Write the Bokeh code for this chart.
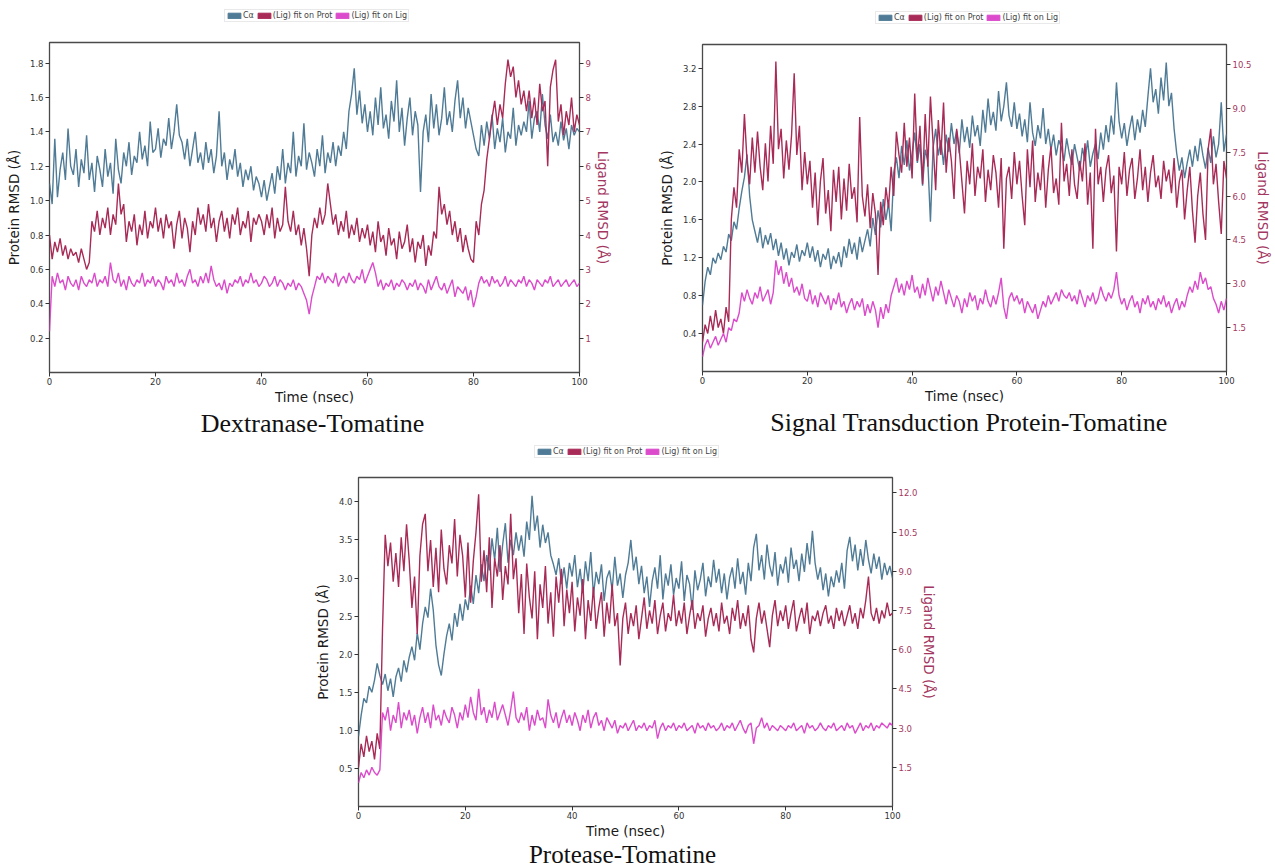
from bokeh.plotting import figure
from bokeh.models import (Range1d, LinearAxis, FixedTicker, PrintfTickFormatter,
                          Legend, LegendItem, Label, Spacer)
from bokeh.layouts import column, row
from bokeh.core.properties import value
from bokeh.embed import file_html
from bokeh.resources import INLINE

# ---------------- data (time in ns, RMSD in Angstrom) ----------------
TIME = [i * 0.5 for i in range(201)]

SERIES_LABELS = ["Cα", "(Lig) fit on Prot", "(Lig) fit on Lig"]

# Panel 1: Dextranase-Tomatine
DEX_CA = [
    1.10, 0.98, 1.36, 1.02, 1.18, 1.28, 1.12, 1.42, 1.20, 1.15, 1.30, 1.08, 1.24, 1.16, 1.38, 1.12, 1.22, 1.05, 1.26, 1.18,
    1.08, 1.30, 1.14, 1.22, 1.04, 1.36, 1.18, 1.10, 1.28, 1.20, 1.34, 1.15, 1.26, 1.22, 1.40, 1.24, 1.32, 1.20, 1.46, 1.28,
    1.30, 1.42, 1.25, 1.36, 1.32, 1.48, 1.30, 1.40, 1.56, 1.38, 1.34, 1.24, 1.36, 1.20, 1.30, 1.40, 1.22, 1.28, 1.18, 1.34,
    1.22, 1.30, 1.16, 1.26, 1.52, 1.20, 1.28, 1.12, 1.24, 1.18, 1.30, 1.14, 1.22, 1.08, 1.18, 1.12, 1.20, 1.06, 1.14, 1.10,
    1.02, 1.12, 1.00, 1.08, 1.16, 1.04, 1.20, 1.12, 1.30, 1.10, 1.22, 1.16, 1.40, 1.14, 1.26, 1.20, 1.45, 1.18, 1.28, 1.22,
    1.14, 1.30, 1.20, 1.38, 1.16, 1.28, 1.22, 1.34, 1.20, 1.32, 1.26, 1.40, 1.30, 1.52, 1.62, 1.77, 1.50, 1.64, 1.45, 1.56,
    1.40, 1.52, 1.38, 1.60, 1.44, 1.66, 1.42, 1.50, 1.36, 1.58, 1.46, 1.70, 1.40, 1.54, 1.32, 1.48, 1.60, 1.38, 1.52, 1.44,
    1.05, 1.40, 1.50, 1.34, 1.62, 1.42, 1.56, 1.38, 1.48, 1.66, 1.44, 1.52, 1.40, 1.58, 1.70, 1.48, 1.60, 1.42, 1.54, 1.46,
    1.38, 1.30, 1.26, 1.44, 1.32, 1.46, 1.36, 1.50, 1.30, 1.42, 1.34, 1.48, 1.28, 1.40, 1.36, 1.54, 1.32, 1.44, 1.38, 1.46,
    1.40, 1.58, 1.36, 1.48, 1.52, 1.40, 1.62, 1.44, 1.36, 1.50, 1.34, 1.40, 1.32, 1.46, 1.35, 1.42, 1.30, 1.44, 1.38, 1.42,
    1.40]
DEX_LIG_PROT = [
    4.0, 3.3, 3.8, 3.5, 3.9, 3.4, 3.7, 3.3, 3.6, 3.4, 3.5, 3.2, 3.6, 3.3, 3.0, 3.2, 4.4, 4.1, 4.7, 4.0,
    4.5, 4.2, 4.8, 4.0, 4.6, 4.3, 5.5, 4.6, 4.9, 3.8, 4.4, 4.1, 4.6, 3.7, 4.3, 4.0, 4.7, 3.9, 4.4, 4.2,
    4.8, 4.1, 4.5, 3.9, 4.6, 4.2, 4.4, 3.6, 4.3, 4.7, 3.9, 4.5, 4.2, 3.5, 4.4, 4.0, 4.8, 4.3, 4.6, 4.1,
    4.9, 4.2, 4.5, 3.8, 4.4, 4.7, 4.1, 4.5, 3.9, 4.6, 4.3, 4.8, 4.0, 4.4, 4.2, 4.7, 3.8, 4.5, 4.3, 4.6,
    4.4, 4.0, 4.6, 4.2, 4.8, 3.9, 4.5, 4.1, 4.3, 5.4, 4.4, 4.1, 4.7, 4.0, 4.3, 3.7, 4.2, 3.6, 2.8, 4.0,
    4.5, 4.2, 4.8, 4.3, 4.6, 5.5, 4.9, 4.3, 4.6, 4.0, 4.4, 4.1, 4.7, 3.9, 4.3, 4.0, 4.5, 3.8, 4.2, 3.9,
    4.3, 3.7, 4.1, 3.5, 4.4, 3.8, 4.0, 3.4, 4.2, 3.7, 3.9, 3.3, 4.1, 3.6, 3.8, 4.3, 3.5, 3.9, 3.2, 3.8,
    3.6, 4.0, 3.1, 3.7, 3.4, 4.1, 3.9, 5.4, 4.6, 4.9, 4.3, 4.7, 4.0, 4.4, 3.8, 4.2, 3.5, 4.0, 3.6, 3.3,
    3.2, 4.4, 4.0, 4.9, 5.3, 6.2, 6.8, 7.4, 7.9, 7.2, 7.8, 7.4, 8.4, 9.1, 8.6, 8.9, 8.0, 8.5, 7.8, 8.2,
    7.6, 8.2, 7.4, 8.0, 7.2, 8.4, 7.6, 7.9, 6.0, 8.3, 8.8, 9.1, 7.3, 7.8, 6.9, 7.6, 7.2, 8.0, 7.0, 7.5,
    7.2]
DEX_LIG_LIG = [
    1.2, 2.8, 2.5, 2.9, 2.6, 2.7, 2.4, 2.8, 2.6, 2.5, 2.7, 2.4, 2.8, 2.6, 2.5, 2.7, 2.6, 2.9, 2.5, 2.7,
    2.6, 2.8, 2.5, 3.2, 2.7, 2.6, 2.9, 2.5, 2.7, 2.4, 2.8, 2.6, 2.5, 2.7, 2.6, 2.9, 2.5, 2.7, 2.6, 2.8,
    2.5, 2.7, 2.6, 2.4, 2.8, 2.6, 2.7, 2.5, 2.9, 2.6, 2.7, 2.5, 2.8, 3.0, 2.6, 2.7, 2.5, 2.8, 2.6, 2.9,
    2.6, 3.1, 2.7, 2.5, 2.6, 2.4, 2.7, 2.3, 2.6, 2.5, 2.7, 2.6, 2.8, 2.5, 2.7, 2.6, 2.9, 2.6, 2.7, 2.5,
    2.6, 2.8, 2.7, 2.5, 2.6, 2.8, 2.5, 2.7, 2.6, 2.4, 2.6, 2.5, 2.7, 2.4, 2.6, 2.5, 2.3, 2.1, 1.7, 2.2,
    2.5, 2.8, 2.7, 2.9, 2.6, 2.8, 2.7, 2.6, 2.9, 2.5, 2.7, 2.8, 2.6, 2.9, 2.7, 2.6, 2.8, 2.7, 3.0, 2.6,
    2.8, 3.0, 3.2, 2.9, 2.5, 2.7, 2.4, 2.6, 2.5, 2.7, 2.4, 2.6, 2.5, 2.7, 2.6, 2.4, 2.6, 2.5, 2.7, 2.4,
    2.6, 2.5, 2.3, 2.7, 2.4, 2.6, 2.8, 2.5, 2.4, 2.6, 2.3, 2.5, 2.7, 2.2, 2.5, 2.4, 2.3, 2.5, 2.1, 2.4,
    1.9, 2.2, 2.6, 2.8, 2.6, 2.7, 2.5, 2.8, 2.6, 2.7, 2.5, 2.6, 2.8, 2.5, 2.7, 2.6, 2.5, 2.7, 2.6, 2.8,
    2.5, 2.7, 2.6, 2.4, 2.7, 2.6, 2.5, 2.7, 2.6, 2.8, 2.5, 2.6, 2.7, 2.5, 2.6, 2.7, 2.5, 2.6, 2.7, 2.5,
    2.6]

# Panel 2: Signal Transduction Protein-Tomatine
SIG_CA = [
    0.70, 0.95, 1.10, 1.02, 1.20, 1.14, 1.25, 1.18, 1.32, 1.26, 1.45, 1.38, 1.58, 1.50, 1.72, 1.90, 2.05, 2.29, 1.85, 1.60,
    1.48, 1.36, 1.52, 1.30, 1.44, 1.34, 1.46, 1.28, 1.40, 1.22, 1.36, 1.18, 1.30, 1.12, 1.26, 1.20, 1.34, 1.16, 1.28, 1.22,
    1.36, 1.20, 1.32, 1.16, 1.28, 1.10, 1.24, 1.18, 1.30, 1.08, 1.22, 1.14, 1.26, 1.10, 1.32, 1.20, 1.40, 1.24, 1.36, 1.18,
    1.42, 1.26, 1.38, 1.50, 1.32, 1.62, 1.44, 1.70, 1.52, 1.82, 1.60, 1.78, 1.48, 2.10, 2.26, 2.04, 2.38, 2.18, 2.44, 2.12,
    2.30, 2.52, 2.20, 2.40, 1.96, 2.34, 2.22, 1.58, 2.36, 2.56, 2.28, 2.44, 2.18, 2.50, 2.32, 2.62, 2.40, 2.54, 2.30, 2.66,
    2.42, 2.58, 2.36, 2.70, 2.48, 2.60, 2.38, 2.76, 2.52, 2.88, 2.60, 2.74, 2.54, 2.96, 2.64, 2.80, 3.05, 2.70, 2.58, 2.84,
    2.56, 2.72, 2.48, 2.66, 2.42, 2.84, 2.52, 2.38, 2.60, 2.46, 2.78, 2.40, 2.56, 2.34, 2.50, 2.28, 2.44, 2.36, 2.22, 2.46,
    2.30, 2.18, 2.40, 2.26, 2.12, 2.36, 2.22, 2.44, 2.16, 2.30, 2.40, 2.24, 2.52, 2.34, 2.60, 2.42, 2.70, 2.50, 3.05, 2.64,
    2.46, 2.62, 2.38, 2.56, 2.70, 2.44, 2.66, 2.52, 2.76, 2.58, 2.90, 3.20, 2.84, 2.98, 2.72, 3.10, 2.86, 3.26, 2.80, 2.94,
    2.56, 2.30, 2.12, 2.26, 2.04, 2.20, 2.34, 2.16, 2.38, 2.22, 2.46, 2.28, 2.14, 2.36, 2.20, 2.48, 2.26, 2.40, 2.84, 2.32,
    2.50]
SIG_LIG_PROT = [
    1.0, 1.6, 1.3, 1.9, 1.4, 2.1, 1.5, 1.8, 1.3, 2.2, 1.7, 5.2, 6.3, 5.6, 7.6, 6.8, 8.8, 7.2, 6.4, 8.0,
    6.8, 8.2, 7.0, 6.2, 7.8, 6.5, 8.4, 7.1, 10.6, 7.6, 8.3, 6.6, 7.9, 6.9, 8.1, 10.2, 7.4, 8.4, 6.2, 7.5,
    6.4, 7.2, 5.6, 6.8, 5.0, 6.5, 7.3, 5.4, 6.2, 4.8, 6.9, 5.8, 7.0, 5.2, 6.6, 5.5, 7.1, 5.9, 6.3, 5.1,
    8.7, 6.0, 5.3, 6.4, 4.9, 6.1, 5.4, 3.3, 5.8, 5.0, 6.3, 5.6, 7.0, 6.0, 8.2, 7.4, 6.8, 8.5, 7.0, 8.0,
    6.6, 9.5, 7.2, 8.4, 6.4, 8.8, 7.0, 9.4, 7.8, 6.2, 8.6, 7.4, 9.2, 6.8, 8.0, 7.2, 5.9, 8.3, 7.6, 6.5,
    5.4, 7.2, 6.4, 7.8, 6.0, 7.0, 6.6, 7.6, 5.8, 6.9, 6.2, 7.4, 6.8, 5.6, 7.3, 4.2, 6.6, 7.0, 5.9, 7.5,
    6.4, 7.2, 6.0, 5.0, 7.6, 6.3, 7.9, 5.8, 6.8, 6.2, 7.4, 5.6, 6.9, 7.7, 6.1, 6.6, 5.7, 8.5, 6.5, 7.1,
    6.0, 7.6, 6.4, 5.9, 7.2, 6.5, 7.8, 5.7, 6.8, 4.2, 8.3, 6.4, 7.0, 5.8, 6.9, 7.4, 6.1, 6.7, 4.1, 7.0,
    6.4, 7.5, 6.0, 6.9, 7.3, 5.9, 6.6, 7.6, 6.2, 7.0, 5.8, 6.8, 7.4, 6.3, 6.7, 5.9, 7.2, 6.5, 6.9, 6.1,
    7.3, 5.6, 6.5, 6.9, 5.2, 6.2, 7.0, 5.5, 4.4, 6.0, 6.8, 5.4, 4.5, 7.6, 8.3, 6.4, 7.1, 5.8, 4.7, 7.2,
    6.6]
SIG_LIG_LIG = [
    0.5, 0.9, 1.1, 0.8, 1.0, 1.2, 0.9, 1.1, 1.3, 1.0, 1.5, 1.4, 1.8, 1.7, 2.0, 2.7, 2.4, 2.8, 2.5, 2.3,
    2.7, 2.5, 2.9, 2.4, 2.6, 2.8, 2.3, 2.7, 3.8, 3.3, 3.6, 3.0, 3.4, 2.9, 3.2, 2.7, 2.9, 2.6, 3.0, 2.5,
    2.4, 2.8, 2.3, 2.6, 2.2, 2.7, 2.5, 2.3, 2.6, 2.1, 2.5, 2.3, 2.7, 2.2, 2.4, 2.0, 2.3, 2.5, 2.1, 2.4,
    2.2, 2.5, 1.9, 2.3, 2.0, 2.4, 2.1, 1.5, 2.2, 1.8, 2.3, 2.0, 2.6, 2.9, 3.2, 2.7, 3.0, 2.6, 3.1, 2.8,
    3.3, 2.7, 2.9, 2.5, 3.0, 2.6, 3.2, 2.8, 2.4, 2.9, 2.6, 3.1, 2.7, 2.3, 2.8, 2.5, 2.2, 2.6, 2.4, 2.0,
    2.5, 2.2, 2.7, 2.4, 2.6, 2.1, 2.5, 2.3, 2.8, 2.4, 2.2, 2.6, 2.3, 2.7, 3.2, 2.2, 1.8, 2.5, 2.7, 2.4,
    2.6, 2.3, 2.5, 2.0, 2.4, 2.2, 2.0, 2.3, 1.8, 2.1, 2.4, 2.2, 2.6, 2.3, 2.5, 2.7, 2.4, 2.8, 2.6, 2.5,
    2.7, 2.4, 2.6, 2.3, 2.8, 2.5, 2.2, 2.6, 2.4, 2.7, 2.3, 2.5, 2.9, 2.6, 2.4, 2.7, 2.5, 2.8, 3.4, 2.6,
    2.3, 2.5, 2.1, 2.4, 2.6, 2.2, 2.4, 2.0, 2.5, 2.3, 2.6, 2.2, 2.4, 2.1, 2.5, 2.3, 2.6, 2.2, 2.4, 2.0,
    2.3, 2.5, 2.1, 2.4, 2.2, 2.6, 2.9, 2.7, 3.1, 2.8, 3.4, 3.0, 3.2, 2.8, 2.9, 2.5, 2.3, 2.0, 2.4, 2.1,
    2.5]

# Panel 3: Protease-Tomatine
PRO_CA = [
    0.92, 1.20, 1.42, 1.36, 1.58, 1.50, 1.66, 1.88, 1.72, 1.60, 1.74, 1.52, 1.68, 1.44, 1.70, 1.82, 1.64, 1.92, 1.76, 1.96,
    2.10, 1.92, 2.28, 2.06, 2.40, 2.62, 2.48, 2.86, 2.58, 2.12, 1.86, 1.72, 2.00, 2.24, 2.40, 2.18, 2.54, 2.36, 2.66, 2.44,
    2.72, 2.58, 2.90, 2.66, 3.04, 2.80, 3.18, 2.96, 3.30, 3.10, 3.52, 3.24, 3.66, 3.08, 3.44, 3.72, 3.20, 3.50, 3.30, 3.60,
    3.36, 3.56, 3.28, 3.74, 3.50, 4.08, 3.62, 3.82, 3.40, 3.70, 3.46, 3.60, 3.30, 3.18, 3.04, 3.26, 2.92, 3.14, 2.86, 3.20,
    3.02, 3.30, 2.88, 3.12, 2.80, 3.22, 2.96, 3.34, 2.78, 3.08, 2.92, 3.18, 2.70, 3.00, 3.10, 2.84, 3.28, 2.90, 3.06, 2.74,
    3.04, 3.20, 3.50, 3.10, 3.28, 2.92, 3.16, 2.80, 3.02, 2.62, 2.96, 3.14, 2.86, 3.30, 2.72, 3.06, 2.90, 3.18, 2.78, 3.00,
    2.86, 3.22, 2.70, 3.04, 2.92, 2.58, 3.10, 2.84, 2.98, 3.20, 2.76, 3.02, 2.88, 3.24, 2.94, 3.12, 2.80, 3.06, 2.72, 3.00,
    3.14, 2.86, 3.26, 2.92, 3.08, 2.78, 3.20, 2.96, 3.40, 3.58, 3.10, 3.30, 2.98, 3.44, 3.16, 3.02, 3.34, 2.90, 3.18, 3.06,
    3.28, 2.94, 3.40, 3.12, 3.24, 2.96, 3.32, 3.08, 3.46, 3.18, 3.62, 3.20, 2.98, 3.14, 2.84, 3.06, 2.76, 3.02, 2.88, 3.10,
    2.94, 3.20, 2.86, 3.36, 3.54, 3.22, 3.44, 3.10, 3.38, 3.16, 3.50, 3.24, 3.06, 3.32, 3.12, 3.28, 2.98, 3.20, 3.04, 3.16,
    3.00]
PRO_LIG_PROT = [
    1.5, 2.4, 1.9, 2.7, 2.1, 2.5, 1.8, 2.8, 2.2, 6.8, 10.4, 9.2, 10.1, 8.6, 9.7, 8.4, 10.3, 9.0, 10.8, 9.4,
    7.6, 8.8, 6.6, 9.6, 10.8, 11.2, 9.0, 10.2, 8.4, 9.9, 8.2, 10.6, 9.1, 8.5, 10.0, 9.3, 11.0, 8.8, 10.4, 9.6,
    8.0, 10.1, 7.8, 9.4, 10.5, 11.95, 8.6, 9.8, 8.2, 10.3, 7.6, 9.5, 8.8, 10.0, 7.9, 9.2, 8.5, 11.2, 8.7, 9.5,
    7.4, 8.9, 6.6, 9.3, 8.0, 7.2, 9.0, 6.4, 8.5, 7.6, 9.2, 7.0, 8.2, 6.5, 8.8, 7.8, 9.1, 6.9, 8.3, 7.4,
    8.6, 6.7, 8.0, 7.3, 8.7, 6.4, 7.9, 7.1, 8.4, 6.8, 7.6, 8.2, 6.5, 7.8, 7.0, 8.5, 6.9, 7.4, 5.4, 7.2,
    7.8, 6.6, 7.4, 6.9, 7.7, 6.4, 7.2, 8.0, 6.8, 7.5, 7.0, 7.9, 6.6, 7.3, 7.8, 6.7, 7.4, 7.1, 8.1, 6.9,
    7.5, 7.0, 7.8, 6.6, 7.3, 7.9, 6.8, 7.4, 7.1, 7.7, 6.5, 7.2, 7.6, 6.9, 7.4, 6.7, 7.8, 7.0, 7.3, 6.6,
    7.6, 7.1, 7.9, 6.8, 7.4, 6.9, 7.7, 6.4, 5.9, 7.2, 7.8, 7.0, 7.5, 6.8, 6.1, 7.3, 7.9, 6.9, 7.5, 7.1,
    7.7, 6.8, 7.4, 7.9, 6.7, 7.2, 7.6, 7.0, 7.8, 6.6, 7.3, 7.1, 7.5, 6.9, 7.4, 7.7, 7.0, 7.3, 6.8, 7.6,
    7.1, 7.5, 6.9, 7.3, 7.7, 7.0, 7.4, 6.8, 7.6, 7.2, 7.9, 8.8, 7.4, 7.1, 7.6, 7.0, 7.5, 7.2, 7.8, 7.3,
    7.4]
PRO_LIG_LIG = [
    0.9, 1.3, 1.1, 1.4, 1.2, 1.5, 1.3, 1.2, 1.4, 3.6, 3.3, 3.8, 2.9, 3.5, 3.2, 4.0, 3.0, 3.6, 3.3, 3.7,
    3.1, 3.5, 2.8, 3.4, 3.8, 3.2, 3.6, 3.0, 3.9, 3.3, 3.5, 3.1, 3.7, 3.4, 3.2, 3.8, 3.5, 3.0, 3.6, 3.3,
    3.9, 3.4, 4.2, 3.6, 3.3, 4.5, 3.5, 3.8, 3.2, 3.7, 3.4, 4.0, 3.3, 3.6, 3.9, 3.5, 3.1, 3.7, 4.4, 3.4,
    3.2, 3.6, 3.3, 3.8, 2.9, 3.5, 3.1, 3.7, 3.3, 3.4, 3.0, 4.1, 3.5, 3.2, 3.6, 3.0, 3.4, 3.7, 3.2, 3.5,
    3.1, 3.6, 3.3, 2.9, 3.5, 3.2, 3.7, 3.0, 3.4, 3.6, 3.1, 3.3, 2.9, 3.4, 3.2, 3.0, 3.3, 2.8, 3.1, 3.0,
    3.2, 2.9, 3.1, 3.3, 2.9, 3.1, 3.0, 3.2, 2.9, 3.1, 3.0, 3.3, 2.6, 3.0, 3.2, 2.9, 3.1, 3.0, 3.2, 2.9,
    3.1, 3.0, 3.2, 2.9, 3.0, 3.1, 2.8, 3.2, 3.0, 3.1, 2.9, 3.2, 3.0, 3.1, 2.9, 3.0, 3.2, 2.9, 3.1, 3.0,
    3.2, 2.9, 3.1, 3.3, 3.0, 2.8, 3.1, 3.2, 2.4, 3.0, 3.1, 3.4, 3.0, 3.2, 2.9, 3.1, 3.0, 2.9, 3.1, 3.0,
    2.9, 3.1, 3.0, 3.2, 2.9, 3.0, 3.1, 2.8, 3.2, 3.0, 3.1, 2.9, 3.0, 3.2, 3.0, 2.9, 3.1, 3.0, 3.2, 2.9,
    3.0, 3.1, 2.9, 3.2, 3.0, 3.1, 2.8, 3.0, 3.2, 2.9, 3.1, 3.0, 3.2, 2.9, 3.1, 3.0, 3.2, 3.1, 3.0, 3.2,
    3.1]

X_TICKS = [0, 20, 40, 60, 80, 100]
DEX_LEFT_TICKS = [0.2, 0.4, 0.6, 0.8, 1.0, 1.2, 1.4, 1.6, 1.8]
DEX_RIGHT_TICKS = [1, 2, 3, 4, 5, 6, 7, 8, 9]
SIG_LEFT_TICKS = [0.4, 0.8, 1.2, 1.6, 2.0, 2.4, 2.8, 3.2]
SIG_RIGHT_TICKS = [1.5, 3.0, 4.5, 6.0, 7.5, 9.0, 10.5]
PRO_LEFT_TICKS = [0.5, 1.0, 1.5, 2.0, 2.5, 3.0, 3.5, 4.0]
PRO_RIGHT_TICKS = [1.5, 3.0, 4.5, 6.0, 7.5, 9.0, 10.5, 12.0]

for s in (DEX_CA, DEX_LIG_PROT, DEX_LIG_LIG, SIG_CA, SIG_LIG_PROT, SIG_LIG_LIG,
          PRO_CA, PRO_LIG_PROT, PRO_LIG_LIG):
    assert len(s) == len(TIME), len(s)

# ---------------- style ----------------
BLUE = "#4f7b96"
RED = "#a82b57"
MAG = "#db4bcb"
AX_LABEL = "#1a1a1a"
RIGHT_COLOR = "#a3375f"
FONT = "DejaVu Sans"


def style_axis(ax, label_color, tick_color, tick_standoff, label_standoff):
    ax.axis_line_color = None
    ax.major_tick_line_color = "#333333"
    ax.major_tick_out = 4
    ax.major_tick_in = 0
    ax.minor_tick_line_color = None
    ax.major_label_text_font = FONT
    ax.major_label_text_font_size = "8.5px"
    ax.major_label_text_color = tick_color
    ax.major_label_standoff = tick_standoff
    ax.axis_label_text_font = FONT
    ax.axis_label_text_font_size = "13.5px"
    ax.axis_label_text_font_style = "normal"
    ax.axis_label_text_color = label_color
    ax.axis_label_standoff = label_standoff


def blank_fig(w, h, bl, br, fw):
    # frame spans the main plot's frame horizontally; x units are pixels
    f = figure(width=w, height=h, title=None,
               x_range=Range1d(0, fw), y_range=Range1d(0, h),
               x_axis_location=None, y_axis_location=None,
               min_border_left=bl, min_border_right=br,
               min_border_top=0, min_border_bottom=0,
               output_backend="svg", toolbar_location=None)
    f.grid.visible = False
    f.outline_line_color = None
    f.background_fill_color = "white"
    f.border_fill_color = "white"
    return f


def make_header(w, h, bl, br, fw, lx, ly):
    f = blank_fig(w, h, bl, br, fw)
    items = []
    for lbl, col in zip(SERIES_LABELS, [BLUE, RED, MAG]):
        # legend swatch source: one off-canvas box so the legend can draw a patch
        r = f.quad(left=[-30], right=[-20], top=[-20], bottom=[-30],
                   fill_color=col, line_color=col)
        items.append(LegendItem(label=value(lbl), renderers=[r]))
    leg = Legend(items=items, orientation="horizontal", location=(lx, ly),
                 glyph_width=16, glyph_height=7, label_standoff=1, spacing=2,
                 padding=1, margin=0, label_text_font=FONT,
                 label_text_font_size="8px", label_height=8, label_width=0,
                 border_line_color="#d4d4d4", border_line_width=1,
                 background_fill_color="white", background_fill_alpha=0.9)
    f.add_layout(leg)
    return f


def make_footer(w, h, bl, br, fw, title, cx, cy, size):
    f = blank_fig(w, h, bl, br, fw)
    f.add_layout(Label(x=cx, y=cy, text=title,
                       text_font="Liberation Serif", text_font_size=size,
                       text_color="#111111", text_align="center",
                       text_baseline="middle"))
    return f


def make_main(w, h, bl, br, bt, bb, ca, lp, ll, ymax, rmax,
              lticks, rticks, rfmt):
    p = figure(width=w, height=h, title=None,
               x_range=Range1d(0, 100), y_range=Range1d(0, ymax),
               min_border_left=bl, min_border_right=br,
               min_border_top=bt, min_border_bottom=bb,
               output_backend="svg", toolbar_location=None)
    p.extra_y_ranges = {"lig": Range1d(0, rmax)}
    p.grid.visible = False
    p.outline_line_color = "#4a4a4a"
    p.outline_line_width = 1.3
    p.background_fill_color = "white"
    p.border_fill_color = "white"

    p.xaxis.ticker = FixedTicker(ticks=X_TICKS)
    p.xaxis.axis_label = "Time (nsec)"
    p.yaxis.ticker = FixedTicker(ticks=lticks)
    p.yaxis.formatter = PrintfTickFormatter(format="%.1f")
    p.yaxis.axis_label = "Protein RMSD (Å)"
    style_axis(p.xaxis[0], AX_LABEL, "#333333", 1, 1)
    style_axis(p.yaxis[0], AX_LABEL, "#333333", 2, 5)

    rax = LinearAxis(y_range_name="lig", axis_label="Ligand RMSD (Å)",
                     ticker=FixedTicker(ticks=rticks),
                     formatter=PrintfTickFormatter(format=rfmt))
    style_axis(rax, RIGHT_COLOR, RIGHT_COLOR, 2, 1)
    p.add_layout(rax, "right")

    p.line(TIME, ca, line_color=BLUE, line_width=1.4)
    p.line(TIME, lp, line_color=RED, line_width=1.4, y_range_name="lig")
    p.line(TIME, ll, line_color=MAG, line_width=1.4, y_range_name="lig")
    return p


def make_panel(w, bl, br, head_h, bt, frame_h, bb, foot_h, series, ymax, rmax,
               lticks, rticks, rfmt, legend_xy, title, title_xy, title_size):
    fw = w - bl - br
    head = make_header(w, head_h, bl, br, fw, *legend_xy)
    main = make_main(w, bt + frame_h + bb, bl, br, bt, bb, *series, ymax, rmax,
                     lticks, rticks, rfmt)
    foot = make_footer(w, foot_h, bl, br, fw, title, *title_xy, title_size)
    return column(head, main, foot)


col1 = make_panel(640, 49, 61, 30, 12, 331, 34, 31,
                  (DEX_CA, DEX_LIG_PROT, DEX_LIG_LIG), 1.92, 9.6,
                  DEX_LEFT_TICKS, DEX_RIGHT_TICKS, "%d",
                  (175, 8), "Dextranase-Tomatine", (263, 15.5), "26px")
col2 = make_panel(634, 62, 47, 30, 14, 328, 34, 32,
                  (SIG_CA, SIG_LIG_PROT, SIG_LIG_LIG), 3.45, 11.18,
                  SIG_LEFT_TICKS, SIG_RIGHT_TICKS, "%.1f",
                  (173, 6), "Signal Transduction Protein-Tomatine", (267, 16), "26px")
col3 = make_panel(650, 50, 66, 28, 11, 332, 32, 25,
                  (PRO_CA, PRO_LIG_PROT, PRO_LIG_LIG), 4.32, 12.59,
                  PRO_LEFT_TICKS, PRO_RIGHT_TICKS, "%.1f",
                  (176, 8.5), "Protease-Tomatine", (264, 12.5), "25px")

layout = column(row(col1, col2), row(Spacer(width=308, height=428), col3))

open("out.html", "w").write(file_html(layout, INLINE))
